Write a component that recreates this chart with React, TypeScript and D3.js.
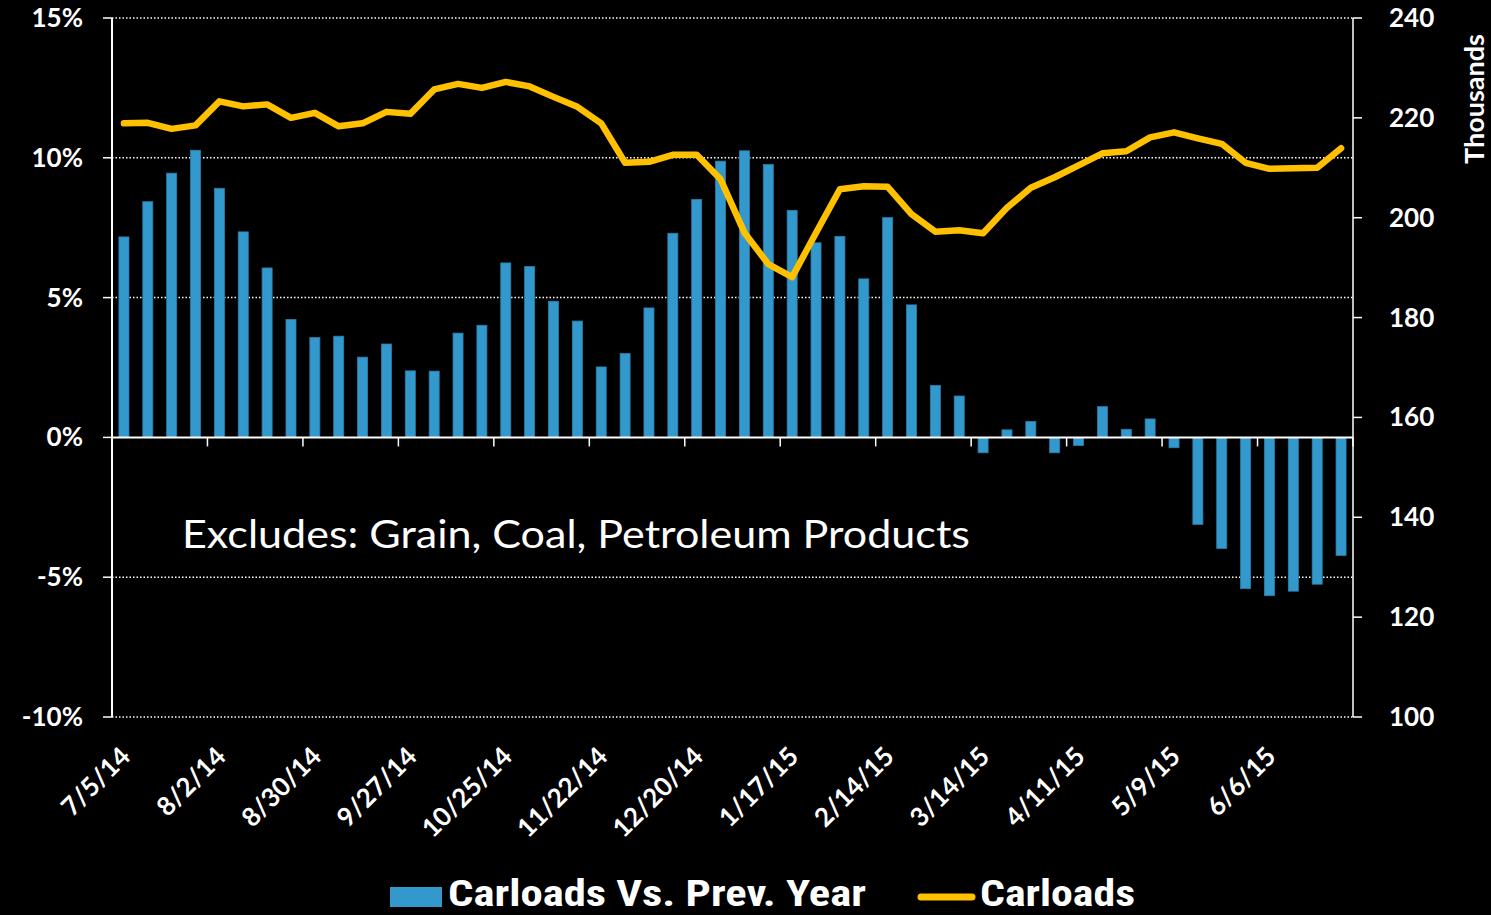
import React, { useEffect } from "react";
import * as d3 from "d3";

const weeks = [
  "7/5/14","7/12/14","7/19/14","7/26/14","8/2/14","8/9/14","8/16/14","8/23/14","8/30/14",
  "9/6/14","9/13/14","9/20/14","9/27/14","10/4/14","10/11/14","10/18/14","10/25/14",
  "11/1/14","11/8/14","11/15/14","11/22/14","11/29/14","12/6/14","12/13/14","12/20/14","12/27/14",
  "1/3/15","1/10/15","1/17/15","1/24/15","1/31/15","2/7/15","2/14/15","2/21/15","2/28/15",
  "3/7/15","3/14/15","3/21/15","3/28/15","4/4/15","4/11/15","4/18/15","4/25/15",
  "5/2/15","5/9/15","5/16/15","5/23/15","5/30/15","6/6/15","6/13/15","6/20/15","6/27/15",
];

const tickLabels = ["7/5/14","8/2/14","8/30/14","9/27/14","10/25/14","11/22/14","12/20/14","1/17/15","2/14/15","3/14/15","4/11/15","5/9/15","6/6/15"];

// % change vs previous year
const yoyPct = [
  7.17, 8.43, 9.45, 10.27, 8.91, 7.35, 6.06, 4.22, 3.57, 3.62, 2.87, 3.34, 2.38,
  2.37, 3.73, 4.01, 6.24, 6.11, 4.87, 4.16, 2.52, 3.0, 4.63, 7.3, 8.51, 9.88,
  10.25, 9.76, 8.12, 6.96, 7.19, 5.67, 7.86, 4.74, 1.86, 1.48, -0.55, 0.27, 0.57,
  -0.55, -0.29, 1.1, 0.29, 0.66, -0.37, -3.11, -3.97, -5.41, -5.66, -5.5, -5.25, -4.22,
];

// carloads, thousands
const carloads = [
  218.9, 219.0, 217.8, 218.5, 223.3, 222.3, 222.7, 220.0, 221.0, 218.3, 218.9, 221.2, 220.8,
  225.7, 226.8, 226.0, 227.2, 226.3, 224.2, 222.2, 218.9, 211.0, 211.2, 212.6, 212.6, 207.7,
  197.0, 190.7, 188.1, 197.0, 205.7, 206.3, 206.2, 200.7, 197.2, 197.5, 196.9, 202.0, 206.0,
  208.1, 210.5, 212.9, 213.3, 216.1, 217.1, 215.9, 214.8, 211.0, 209.8, 209.9, 210.0, 213.9,
];

const leftTicks = [15, 10, 5, 0, -5, -10];
const rightTicks = [240, 220, 200, 180, 160, 140, 120, 100];

const W = 1491, H = 915;
const L = 112, R = 1353, T = 18, B = 717;
const BLUE = "#3399cc";
const GOLD = "#ffc000";
const boldFont = "Lato, 'Open Sans', sans-serif";
const narrowFont = "'Liberation Sans Narrow', 'Roboto Condensed', Roboto, sans-serif";

export default function App() {
  useEffect(() => {
    document.body.style.margin = "0";
    document.body.style.background = "#000";
  }, []);

  const x = d3.scaleBand<number>().domain(d3.range(weeks.length)).range([L, R]).paddingInner(0.58).paddingOuter(0.29);
  const step = x.step();
  const yL = d3.scaleLinear().domain([-10, 15]).range([B, T]);
  const yR = d3.scaleLinear().domain([100, 240]).range([B, T]);
  const cx = (i: number) => (x(i) as number) + x.bandwidth() / 2;

  const line = d3.line<number>().x((_, i) => cx(i)).y((d) => yR(d)).curve(d3.curveLinear);

  const labelIdx = tickLabels.map((t) => weeks.indexOf(t));
  const boundaryTicks = d3.range(1, 14).map((k) => L + k * 4 * step);

  return (
    <svg width={W} height={H} style={{ display: "block", background: "#000" }}>
      <rect x={0} y={0} width={W} height={H} fill="#000" />
      {/* gridlines */}
      {leftTicks.filter((t) => t !== 0).map((t) => (
        <line key={"g" + t} x1={L} x2={R} y1={yL(t)} y2={yL(t)} stroke="#fff" strokeWidth={1.5} strokeDasharray="1.5 2" />
      ))}
      {/* bars */}
      {yoyPct.map((v, i) => (
        <rect key={"b" + i} x={x(i)} y={Math.min(yL(v), yL(0))} width={x.bandwidth()} height={Math.abs(yL(v) - yL(0))}
          fill={BLUE} stroke="#2a7fae" strokeWidth={0.8} />
      ))}
      {/* zero axis */}
      <line x1={L} x2={R} y1={yL(0)} y2={yL(0)} stroke="#fff" strokeWidth={2} />
      {boundaryTicks.map((bx, k) => (
        <line key={"bt" + k} x1={bx} x2={bx} y1={yL(0)} y2={yL(0) + 9} stroke="#fff" strokeWidth={1.5} />
      ))}
      {/* left axis */}
      <line x1={L} x2={L} y1={T} y2={B} stroke="#fff" strokeWidth={2} />
      {leftTicks.map((t) => (
        <g key={"lt" + t}>
          <line x1={L - 9} x2={L} y1={yL(t)} y2={yL(t)} stroke="#fff" strokeWidth={1.5} />
          <text x={83} y={yL(t) + 9} textAnchor="end" fill="#fff" fontFamily={boldFont} fontWeight={700} fontSize={26}>
            {t + "%"}
          </text>
        </g>
      ))}
      {/* right axis */}
      <line x1={R} x2={R} y1={T} y2={B} stroke="#fff" strokeWidth={1.5} />
      {rightTicks.map((t) => (
        <g key={"rt" + t}>
          <line x1={R} x2={R + 9} y1={yR(t)} y2={yR(t)} stroke="#fff" strokeWidth={1.5} />
          <text x={1389} y={yR(t) + 9} textAnchor="start" fill="#fff" fontFamily={boldFont} fontWeight={700} fontSize={26}>
            {t}
          </text>
        </g>
      ))}
      <text transform="translate(1484,99) rotate(-90)" textAnchor="middle" fill="#fff" fontFamily={boldFont} fontWeight={700} fontSize={27}>
        Thousands
      </text>
      {/* line */}
      <path d={line(carloads) || ""} fill="none" stroke={GOLD} strokeWidth={6.5} strokeLinejoin="round" strokeLinecap="round" />
      {/* x labels */}
      {labelIdx.map((i, k) => (
        <text key={"xl" + k} transform={`translate(${cx(i) + 8},${758}) rotate(-45)`} textAnchor="end" fill="#fff"
          fontFamily={boldFont} fontWeight={700} fontSize={26}>
          {tickLabels[k]}
        </text>
      ))}
      {/* annotation */}
      <text x={182} y={548} fill="#fff" fontFamily="Lato, 'Open Sans', sans-serif" fontSize={39} textLength={788} lengthAdjust="spacingAndGlyphs">
        Excludes: Grain, Coal, Petroleum Products
      </text>
      {/* legend */}
      <rect x={390} y={887} width={52} height={20} fill={BLUE} />
      <text x={448} y={906} fill="#fff" fontFamily={narrowFont} fontWeight={700} fontSize={36}
        textLength={418} lengthAdjust="spacingAndGlyphs">
        Carloads Vs. Prev. Year
      </text>
      <line x1={921} x2={972} y1={897} y2={897} stroke={GOLD} strokeWidth={7} strokeLinecap="round" />
      <text x={980} y={906} fill="#fff" fontFamily={narrowFont} fontWeight={700} fontSize={36}
        textLength={155} lengthAdjust="spacingAndGlyphs">
        Carloads
      </text>
    </svg>
  );
}
